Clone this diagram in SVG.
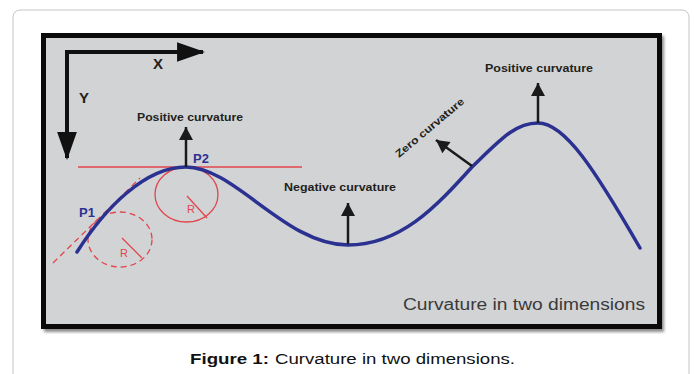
<svg xmlns="http://www.w3.org/2000/svg" width="694" height="374" viewBox="0 0 694 374">
  <defs>
    <style>
      .lbl { font-family: "Liberation Sans", Arial, sans-serif; font-weight: bold; font-size: 10.5px; fill: #231f20; }
      .pt { font-family: "Liberation Sans", Arial, sans-serif; font-weight: bold; font-size: 13px; fill: #2e3192; }
      .r { font-family: "Liberation Sans", Arial, sans-serif; font-size: 11px; fill: #e0464b; }
      .axl { font-family: "Liberation Sans", Arial, sans-serif; font-weight: bold; font-size: 15px; fill: #231f20; }
      .red { fill: none; stroke: #e0464b; stroke-width: 1.3; }
      .dash { stroke-dasharray: 6 4; }
      .arr { fill: none; stroke: #1a1a1a; stroke-width: 2.5; marker-end: url(#ah); }
      .curve { fill: none; stroke: #2b3190; stroke-width: 3.5; stroke-linecap: round; }
    </style>
    <marker id="ah" markerUnits="userSpaceOnUse" markerWidth="14" markerHeight="14" viewBox="0 0 12 13" refX="12" refY="6.5" orient="auto">
      <path d="M0 0 L12 6.5 L0 13 Z" fill="#1a1a1a"/>
    </marker>
    <marker id="axh" markerUnits="userSpaceOnUse" markerWidth="28" markerHeight="20" viewBox="0 0 27 19" refX="25" refY="9.5" orient="auto-start-reverse">
      <path d="M0 0 L27 9.5 L0 19 Z" fill="#111"/>
    </marker>
    <filter id="sh" x="-5%" y="-5%" width="110%" height="110%">
      <feGaussianBlur stdDeviation="1.5"/>
    </filter>
  </defs>

  <rect x="0" y="0" width="694" height="374" fill="#ffffff"/>
  <rect x="13" y="10" width="676" height="380" rx="7" fill="#ffffff" stroke="#c4c4c4" stroke-width="1"/>

  <g id="panel">
    <rect x="44" y="36" width="620" height="296" fill="#000" opacity="0.45" filter="url(#sh)"/>
    <rect x="43.5" y="35.5" width="616" height="291" fill="#d2d3d5" stroke="#0a0a0a" stroke-width="5"/>
  </g>

  <g id="axes">
    <path d="M 67 52 H 203 M 67 50 V 158" fill="none" stroke="#111" stroke-width="4"/>
    <path d="M 203 52 H 65" fill="none" stroke="#111" stroke-width="4" marker-start="url(#axh)"/>
    <path d="M 67 50 V 158" fill="none" stroke="#111" stroke-width="4" marker-end="url(#axh)"/>
    <text class="axl" x="153" y="69">X</text>
    <text class="axl" x="79" y="103">Y</text>
  </g>

  <g id="tangents">
    <line class="red" x1="78" y1="167" x2="302" y2="167"/>
    <line class="red dash" x1="53" y1="263" x2="140" y2="178"/>
  </g>

  <g id="circle-p2">
    <ellipse class="red" cx="186.5" cy="194.5" rx="31.5" ry="27.5"/>
    <line class="red" x1="187" y1="196" x2="207" y2="218" stroke-width="1"/>
    <text class="r" x="187" y="213">R</text>
  </g>

  <g id="circle-p1">
    <ellipse class="red dash" cx="120" cy="239.5" rx="32" ry="27.5" stroke-width="1.6"/>
    <line class="red" x1="122" y1="238" x2="142" y2="258" stroke-width="1"/>
    <text class="r" x="120" y="257">R</text>
  </g>

  <g id="curve">
    <path class="curve" d="M 77 252 C 105 208 145 167 186 167 C 235 167 285 245 348 245 C 400 245 435 208 472 167 C 500 140 515 123 538 123 C 565 123 595 170 640 248"/>
  </g>

  <g id="connectors">
    <line class="arr" x1="186" y1="167" x2="186" y2="127"/>
    <line class="arr" x1="348" y1="244" x2="348" y2="203"/>
    <line class="arr" x1="538" y1="123" x2="538" y2="83"/>
    <line class="arr" x1="472" y1="166" x2="436" y2="140"/>
  </g>

  <g id="labels">
    <text class="pt" x="79" y="217">P1</text>
    <text class="pt" x="193" y="163">P2</text>
    <text class="lbl" x="137" y="121" textLength="106" lengthAdjust="spacingAndGlyphs">Positive curvature</text>
    <text class="lbl" x="284" y="191" textLength="112" lengthAdjust="spacingAndGlyphs">Negative curvature</text>
    <text class="lbl" x="485" y="72" textLength="108" lengthAdjust="spacingAndGlyphs">Positive curvature</text>
    <text class="lbl" x="0" y="0" transform="translate(399 158) rotate(-40)" textLength="86" lengthAdjust="spacingAndGlyphs">Zero curvature</text>
    <text x="403" y="310" font-family="Liberation Sans, Arial, sans-serif" font-size="16" fill="#3a3a3a" textLength="242" lengthAdjust="spacingAndGlyphs">Curvature in two dimensions</text>
  </g>

  <text id="caption" y="364" font-family="Liberation Sans, Arial, sans-serif" font-size="15.5" fill="#111"><tspan x="190" font-weight="bold" textLength="79" lengthAdjust="spacingAndGlyphs">Figure 1:</tspan><tspan x="275" textLength="240" lengthAdjust="spacingAndGlyphs">Curvature in two dimensions.</tspan></text>
</svg>
